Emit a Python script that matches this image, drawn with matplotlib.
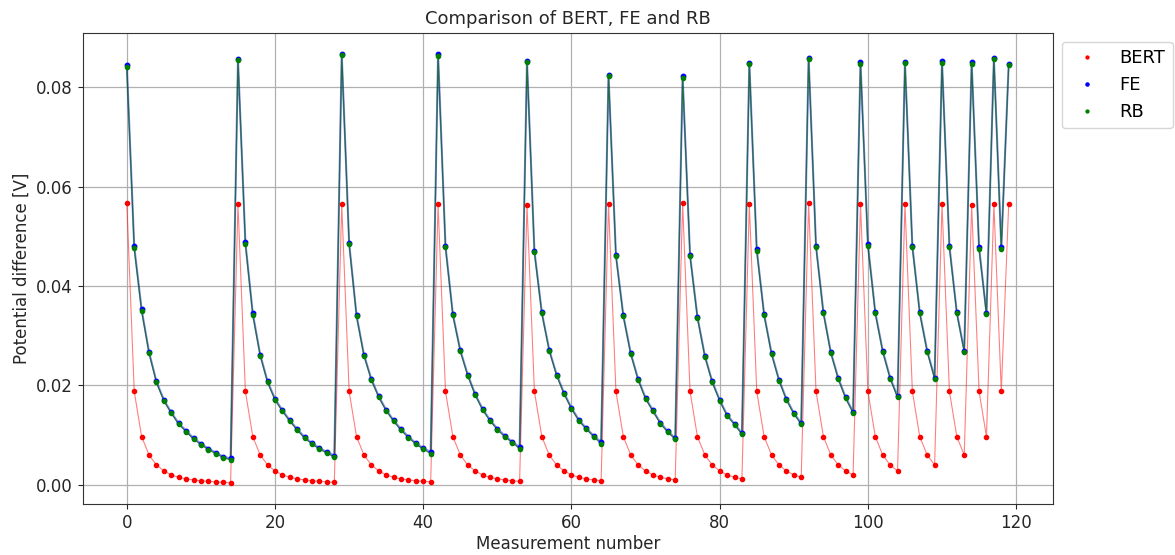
import matplotlib
matplotlib.use("Agg")
import matplotlib.pyplot as plt

# one decay run per "segment", runs get shorter and shorter
bert = [
    0.0567, 0.0188, 0.0097, 0.0060, 0.0040, 0.0028, 0.0020, 0.0015, 0.0012, 0.0010, 0.0008, 0.0007, 0.0006, 0.0005, 0.0004,
    0.0565, 0.0188, 0.0097, 0.0060, 0.0040, 0.0028, 0.0020, 0.0015, 0.0012, 0.0010, 0.0008, 0.0007, 0.0006, 0.0005,
    0.0565, 0.0188, 0.0097, 0.0060, 0.0040, 0.0028, 0.0020, 0.0015, 0.0012, 0.0010, 0.0008, 0.0007, 0.0006,
    0.0565, 0.0188, 0.0097, 0.0060, 0.0040, 0.0028, 0.0020, 0.0015, 0.0012, 0.0010, 0.0008, 0.0007,
    0.0563, 0.0188, 0.0097, 0.0060, 0.0040, 0.0028, 0.0020, 0.0015, 0.0012, 0.0010, 0.0008,
    0.0565, 0.0188, 0.0097, 0.0060, 0.0040, 0.0028, 0.0020, 0.0015, 0.0012, 0.0010,
    0.0567, 0.0188, 0.0097, 0.0060, 0.0040, 0.0028, 0.0020, 0.0015, 0.0012,
    0.0565, 0.0188, 0.0097, 0.0060, 0.0040, 0.0028, 0.0020, 0.0015,
    0.0567, 0.0188, 0.0097, 0.0060, 0.0040, 0.0028, 0.0020,
    0.0565, 0.0188, 0.0097, 0.0060, 0.0040, 0.0028,
    0.0565, 0.0188, 0.0097, 0.0060, 0.0040,
    0.0565, 0.0188, 0.0097, 0.0060,
    0.0563, 0.0188, 0.0097,
    0.0565, 0.0188,
    0.0565,
]

fe = [
    0.0845, 0.0480, 0.0353, 0.0267, 0.0208, 0.0171, 0.0146, 0.0124, 0.0109, 0.0094, 0.0083, 0.0073, 0.0065, 0.0057, 0.0053,
    0.0857, 0.0488, 0.0345, 0.0262, 0.0208, 0.0173, 0.0150, 0.0130, 0.0112, 0.0096, 0.0084, 0.0074, 0.0066, 0.0059,
    0.0867, 0.0487, 0.0341, 0.0262, 0.0213, 0.0178, 0.0151, 0.0130, 0.0112, 0.0097, 0.0084, 0.0074, 0.0066,
    0.0867, 0.0481, 0.0343, 0.0271, 0.0222, 0.0183, 0.0153, 0.0131, 0.0113, 0.0099, 0.0087, 0.0076,
    0.0854, 0.0471, 0.0347, 0.0272, 0.0222, 0.0185, 0.0155, 0.0131, 0.0114, 0.0099, 0.0086,
    0.0825, 0.0463, 0.0341, 0.0265, 0.0213, 0.0175, 0.0150, 0.0125, 0.0108, 0.0094,
    0.0822, 0.0463, 0.0338, 0.0260, 0.0208, 0.0171, 0.0141, 0.0123, 0.0104,
    0.0850, 0.0474, 0.0343, 0.0265, 0.0212, 0.0173, 0.0145, 0.0124,
    0.0860, 0.0481, 0.0347, 0.0267, 0.0215, 0.0176, 0.0147,
    0.0851, 0.0484, 0.0347, 0.0270, 0.0216, 0.0178,
    0.0852, 0.0481, 0.0347, 0.0270, 0.0216,
    0.0853, 0.0481, 0.0347, 0.0270,
    0.0851, 0.0478, 0.0345,
    0.0860, 0.0478,
    0.0848,
]

rb = [
    0.0841, 0.0476, 0.0350, 0.0265, 0.0206, 0.0169, 0.0144, 0.0122, 0.0107, 0.0092, 0.0081, 0.0071, 0.0063, 0.0055, 0.0050,
    0.0855, 0.0485, 0.0342, 0.0260, 0.0206, 0.0171, 0.0148, 0.0128, 0.0110, 0.0094, 0.0082, 0.0072, 0.0064, 0.0056,
    0.0865, 0.0484, 0.0339, 0.0260, 0.0211, 0.0176, 0.0149, 0.0128, 0.0110, 0.0095, 0.0082, 0.0072, 0.0063,
    0.0863, 0.0478, 0.0341, 0.0269, 0.0220, 0.0181, 0.0151, 0.0129, 0.0111, 0.0097, 0.0085, 0.0073,
    0.0851, 0.0468, 0.0345, 0.0270, 0.0220, 0.0183, 0.0153, 0.0129, 0.0112, 0.0097, 0.0083,
    0.0823, 0.0460, 0.0339, 0.0263, 0.0211, 0.0173, 0.0148, 0.0123, 0.0106, 0.0092,
    0.0819, 0.0460, 0.0336, 0.0258, 0.0206, 0.0169, 0.0139, 0.0121, 0.0102,
    0.0848, 0.0471, 0.0341, 0.0263, 0.0210, 0.0171, 0.0143, 0.0122,
    0.0858, 0.0478, 0.0345, 0.0265, 0.0213, 0.0174, 0.0145,
    0.0848, 0.0481, 0.0345, 0.0268, 0.0214, 0.0176,
    0.0849, 0.0478, 0.0345, 0.0268, 0.0214,
    0.0850, 0.0478, 0.0345, 0.0268,
    0.0848, 0.0475, 0.0343,
    0.0858, 0.0475,
    0.0845,
]

x = list(range(len(bert)))

fig = plt.figure(figsize=(11.75, 5.55), dpi=100)
ax = fig.add_axes([0.0704, 0.0914, 0.8256, 0.8497])

# thin lines first, dots on top
ax.plot(x, bert, color='red', lw=0.8, alpha=0.5)
ax.plot(x, fe, color='blue', lw=1.5, alpha=0.45)
ax.plot(x, rb, color='#006000', lw=0.9, alpha=0.75)

ax.plot(x, bert, 'o', color='red', ms=3, label='BERT')
ax.plot(x, fe, 'o', color='blue', ms=3.2, label='FE')
ax.plot(x, rb, 'o', color='green', ms=3, label='RB')

ax.grid(True, color='#b0b0b0', lw=0.9)
ax.set_axisbelow(True)
ax.tick_params(labelsize=12, colors='#262626')
for s in ax.spines.values():
    s.set_color('#333333')

ax.set_title('Comparison of BERT, FE and RB', fontsize=13, color='#262626')
ax.set_xlabel('Measurement number', fontsize=12, color='#262626', labelpad=2)
ax.set_ylabel('Potential difference [V]', fontsize=12, color='#262626')

ax.legend(loc='upper left', bbox_to_anchor=(1.0, 1.0), fontsize=13, numpoints=1,
          markerscale=0.7, handlelength=2.0)

fig.savefig('out.png', dpi=100)
